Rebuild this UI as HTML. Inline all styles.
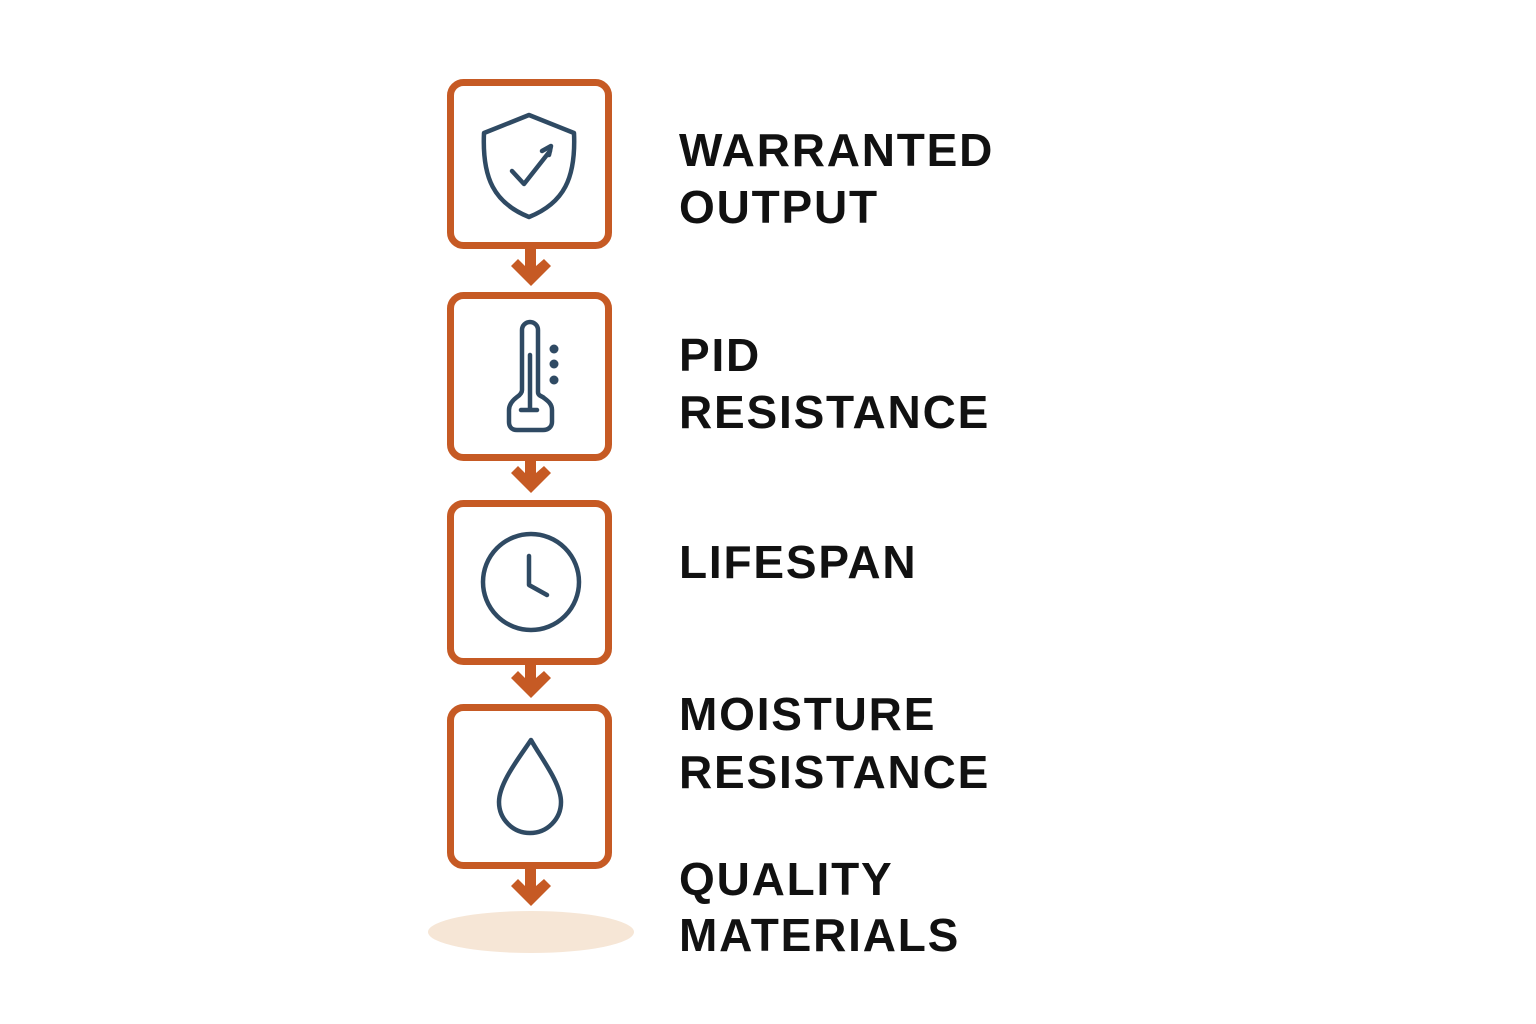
<!DOCTYPE html>
<html><head><style>
html,body{margin:0;padding:0;background:#fff;}
svg{display:block;}
text{font-family:"Liberation Sans",sans-serif;font-weight:bold;font-size:46px;fill:#111;letter-spacing:1.8px;}
</style></head><body>
<svg width="1536" height="1024" viewBox="0 0 1536 1024" xmlns="http://www.w3.org/2000/svg">
<g fill="none" stroke="#c65a24" stroke-width="7">
<rect x="450.5" y="82.5" width="158" height="163" rx="13"/>
<rect x="450.5" y="295.5" width="158" height="162" rx="13"/>
<rect x="450.5" y="503.5" width="158" height="158" rx="13"/>
<rect x="450.5" y="707.5" width="158" height="158" rx="13"/>
</g>
<g fill="#c65a24">
<path d="M525 249h11v17l8-7 7 7-20 20-20-20 7-7 7 7z"/>
<path d="M525 461h11v12l8-7 7 7-20 20-20-20 7-7 7 7z"/>
<path d="M525 665h11v13l8-7 7 7-20 20-20-20 7-7 7 7z"/>
<path d="M525 869h11v17l8-7 7 7-20 20-20-20 7-7 7 7z"/>
</g>
<ellipse cx="531" cy="932" rx="103" ry="21" fill="#f6e6d6"/>
<g fill="none" stroke="#2f4a63" stroke-width="4.5" stroke-linecap="round" stroke-linejoin="round">
<path d="M529 115l45 18c2 45-10 70-45 84c-35-14-47-39-45-84z"/>
<path d="M512 171l12 13l26-33"/>
<path d="M542 151l9-5l-2 9"/>
<path d="M522 330a8 8 0 0 1 16 0v62c0 4 4 4 6 6c4 3 8 6 8 12v12c0 5-4 8-9 8h-26c-5 0-8-3-8-8v-12c0-6 4-10 8-13c3-2 5-4 5-7z"/>
<path d="M530 355v55M521 410h16"/>
<circle cx="531" cy="582" r="48"/>
<path d="M529 556v29l18 10"/>
<path d="M531 740c-12 18-32 43-32 62a31 31 0 0 0 62 0c0-19-20-44-30-62z"/>
</g>
<g fill="#2f4a63"><circle cx="554" cy="349" r="4.5"/><circle cx="554" cy="364" r="4.5"/><circle cx="554" cy="380" r="4.5"/></g>
<text x="679" y="166">WARRANTED</text>
<text x="679" y="223">OUTPUT</text>
<text x="679" y="371">PID</text>
<text x="679" y="428">RESISTANCE</text>
<text x="679" y="578">LIFESPAN</text>
<text x="679" y="730">MOISTURE</text>
<text x="679" y="788">RESISTANCE</text>
<text x="679" y="895">QUALITY</text>
<text x="679" y="951">MATERIALS</text>
</svg>
</body></html>
